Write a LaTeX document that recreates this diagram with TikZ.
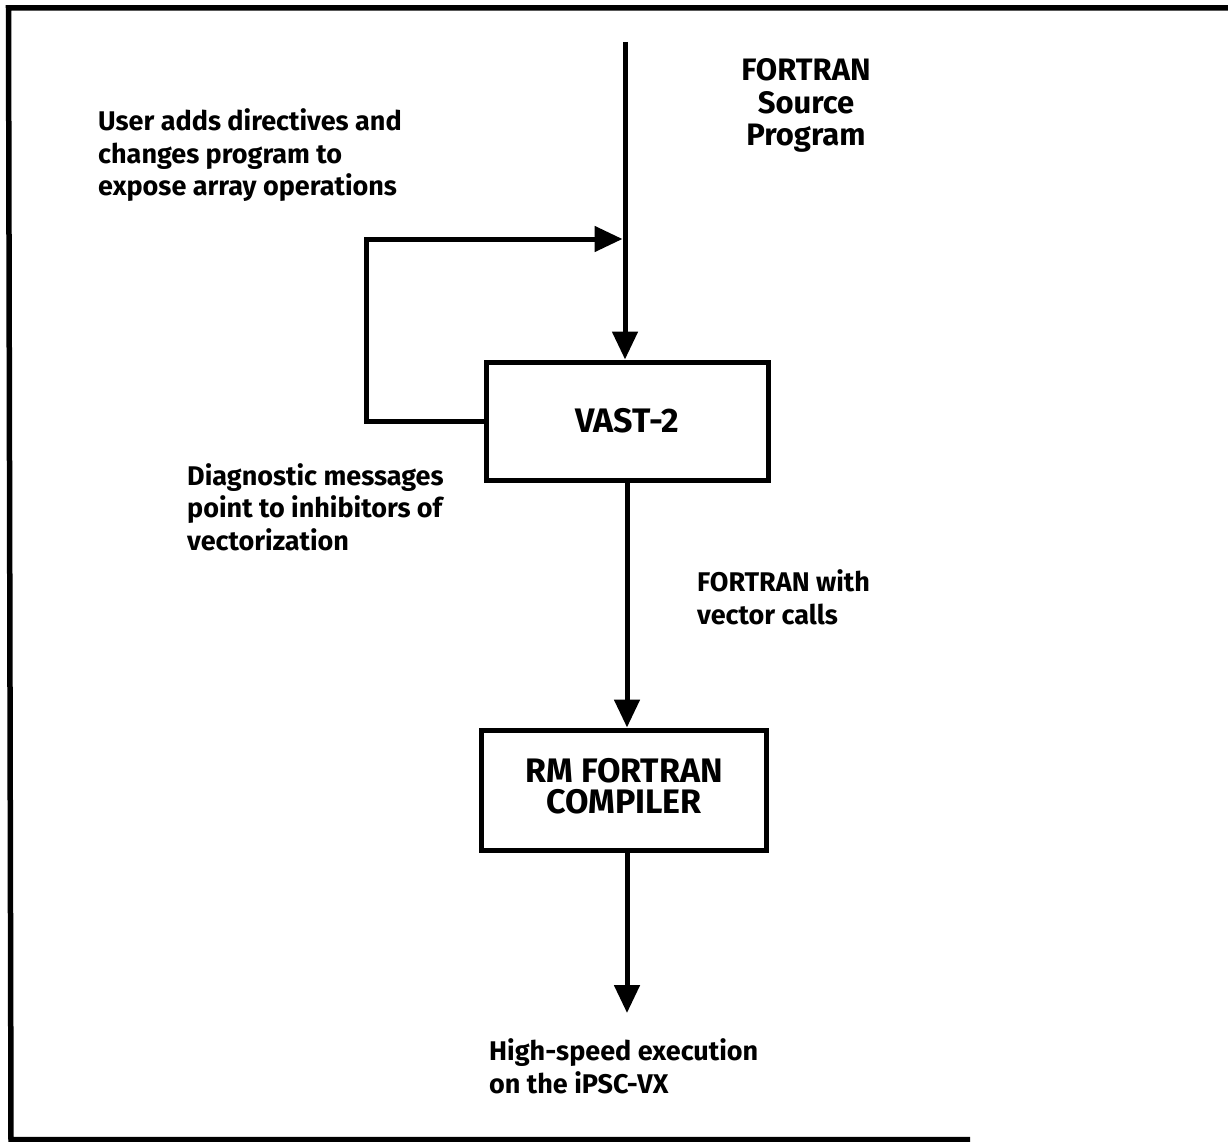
\documentclass[tikz,border=0pt]{standalone}
\usepackage{fontspec}
\setmainfont{Fira Sans}
\usetikzlibrary{arrows.meta}
\tikzset{
  ln/.style={line width=5pt, line join=miter},
  arr/.style={ln, -{Triangle[length=28pt,width=25pt]}},
  box/.style={draw, line width=5pt, fill=white, inner sep=0pt, align=center, font=\bfseries\fontsize{34}{31.5}\selectfont},
  lbl/.style={inner sep=0pt, align=left, font=\bfseries\fontsize{27}{32.5}\selectfont},
  big/.style={inner sep=0pt, align=center, font=\bfseries\fontsize{31}{32.5}\selectfont}
}
\begin{document}
\begin{tikzpicture}[x=1pt,y=-1pt]
\useasboundingbox (0,0) rectangle (1228,1142);
% frame
\draw[line width=5.5pt] (1228,8) -- (8.5,8) -- (11,1139.5) -- (970,1139.5);
% boxes
\node[box, minimum width=282pt, minimum height=118pt] (vast) at (627,421) {VAST-2};
\node[box, minimum width=285pt, minimum height=120pt, text depth=8pt] (rm) at (624,790) {RM FORTRAN\\COMPILER};
% coordinates
\coordinate (src) at (625,42);
\coordinate (join) at (622.5,239);
\coordinate (lc) at (366,421);
\coordinate (out) at (627,1013);
% connectors
\draw[arr] (src) -- (src |- vast.north);
\draw[arr] (vast.west) -- (lc) |- (join);
\draw[arr] (vast.south) -- (rm.north -| vast.south);
\draw[arr] (rm.south -| out) -- (out);
% labels (base anchor = baseline of last line)
\node[big, anchor=base] (srclbl) at (806,146) {FORTRAN\\Source\\Program};
\node[lbl, anchor=base west] (user) at (98,196) {User adds directives and\\changes program to\\expose array operations};
\node[lbl, anchor=base west] (diag) at (187,550) {Diagnostic messages\\point to inhibitors of\\vectorization};
\node[lbl, anchor=base west] (fwv) at (697,624) {FORTRAN with\\vector calls};
\node[lbl, anchor=base west] (hse) at (489,1093) {High-speed execution\\on the iPSC-VX};
\end{tikzpicture}
\end{document}
